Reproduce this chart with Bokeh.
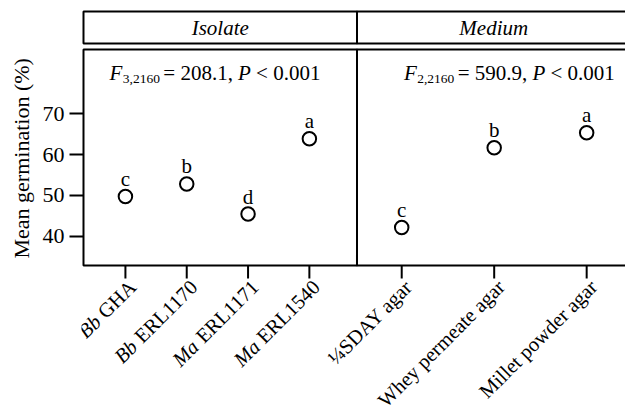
import math
from bokeh.plotting import figure
from bokeh.models import (Range1d, FixedTicker, LabelSet, Label, Title,
                          ColumnDataSource)
from bokeh.core.properties import value
from bokeh.embed import file_html
from bokeh.resources import INLINE

# ---------------- data ----------------
isolate_prefix = ["Bb", "Bb", "Ma", "Ma"]          # italic genus part of the tick labels
isolate_suffix = ["GHA", "ERL1170", "ERL1171", "ERL1540"]
isolate_mean = [49.7, 52.8, 45.4, 63.9]
isolate_letters = ["c", "b", "d", "a"]

medium_names = ["¼SDAY agar", "Whey permeate agar", "Millet powder agar"]
medium_mean = [42.1, 61.7, 65.4]
medium_letters = ["c", "b", "a"]

y_ticks = [40, 50, 60, 70]
strip_titles = ["Isolate", "Medium"]
f_df = ["3,2160", "2,2160"]
f_value = ["208.1", "590.9"]
p_value = ["0.001", "0.001"]
y_title = "Mean germination (%)"

# ---------------- layout (canvas pixels) ----------------
W, H = 625, 412
FL, FR, FT, FB = 80, 625, 0, 412          # frame edges
X1_ISO, DX_ISO = 124.0, 61.43             # first isolate tick, spacing
X1_MED, DX_MED = 400.8, 92.65             # first medium tick, spacing
Y55, PPU_Y = 174.5, 4.067                 # pixel of y=55, pixels per unit

xi_start = 1 - (X1_ISO - FL) / DX_ISO
xi_end = 1 + (FR - X1_ISO) / DX_ISO
xm_start = 1 - (X1_MED - FL) / DX_MED
xm_end = 1 + (FR - X1_MED) / DX_MED
y_start = 55 - (FB - Y55) / PPU_Y
y_end = 55 + (Y55 - FT) / PPU_Y


def xi(px):
    return xi_start + (px - FL) / DX_ISO


def px_i(x):
    return FL + (x - xi_start) * DX_ISO


def px_m(x):
    return FL + (x - xm_start) * DX_MED


def xm(px):
    return xm_start + (px - FL) / DX_MED


def yv(py):
    return y_start + (FB - py) / PPU_Y


TNR = {' ': 250, 'G': 722, 'H': 722, 'A': 722, 'E': 611, 'R': 667, 'L': 611,
       ',': 250, '.': 250, '=': 564, '<': 564, 'F': 611, 'P': 611}


def tw(s, size):
    return sum(TNR.get(c, 500) for c in s) * size / 1000.0


FONT = "Liberation Serif"

p = figure(width=W, height=H, x_range=Range1d(xi_start, xi_end),
           y_range=Range1d(y_start, y_end), output_backend="svg",
           toolbar_location=None, x_axis_location=None,
           min_border_left=FL, min_border_right=0,
           min_border_top=FT, min_border_bottom=H - FB)
p.extra_x_ranges = {"medium": Range1d(xm_start, xm_end)}
p.xgrid.visible = False
p.ygrid.visible = False
p.outline_line_color = None
p.background_fill_color = "white"
p.border_fill_color = "white"

iso_x = list(range(1, len(isolate_mean) + 1))
med_x = list(range(1, len(medium_mean) + 1))

# y axis
p.yaxis.ticker = FixedTicker(ticks=y_ticks)
p.yaxis.axis_line_color = None
p.yaxis.major_tick_out = 12
p.yaxis.major_tick_in = 2
p.yaxis.major_tick_line_width = 2
p.yaxis.major_tick_line_color = "black"
p.yaxis.minor_tick_out = 0
p.yaxis.minor_tick_in = 0
p.yaxis.major_label_text_font = FONT
p.yaxis.major_label_text_font_size = "22px"
p.yaxis.major_label_text_color = "black"
p.yaxis.major_label_standoff = 5
p.add_layout(Title(text=y_title, align="left", offset=154, standoff=12,
                   text_font=FONT, text_font_size="22px",
                   text_font_style="normal", text_color="black"), "left")

# strip and panel boxes
p.quad(left=[xi(82), xi(356)], right=[xi(356), xi(630)], top=[yv(11)] * 2,
       bottom=[yv(43)] * 2, fill_color=None, line_color="black", line_width=2)
p.quad(left=[xi(82), xi(356)], right=[xi(356), xi(630)], top=[yv(49)] * 2,
       bottom=[yv(265)] * 2, fill_color=None, line_color="black", line_width=2)
p.text(x=[xi(219), xi(493)], y=[yv(27)] * 2, text=strip_titles,
       text_font=value(FONT), text_font_style="italic", text_font_size="21px",
       text_align="center", text_baseline="middle", text_color="black")

# x ticks (below the panel box)
p.segment(x0=iso_x, x1=iso_x, y0=[yv(265)] * len(iso_x), y1=[yv(278)] * len(iso_x),
          line_color="black", line_width=2)
p.segment(x0=med_x, x1=med_x, y0=[yv(265)] * len(med_x), y1=[yv(278)] * len(med_x),
          line_color="black", line_width=2, x_range_name="medium")

# F statistics
BASE = 72
FS = 21
for k, x0 in enumerate([108, 403]):
    segs = [("F", FS, "italic", 0, 0.5),
            (f_df[k], 13.5, "normal", 6, 3.5),
            ("= " + f_value[k] + ",", FS, "normal", 0, tw(" ", FS)),
            ("P", FS, "italic", 0, tw(" ", FS)),
            ("< " + p_value[k], FS, "normal", 0, 0)]
    x = x0
    for txt, size, style, drop, gap in segs:
        p.add_layout(Label(x=xi(x), y=yv(BASE + drop), text=txt, text_font=FONT,
                           text_font_size=f"{size}px", text_font_style=style,
                           text_align="left", text_baseline="alphabetic",
                           text_color="black"))
        x += tw(txt, size) + gap

# points
p.scatter(x=iso_x, y=isolate_mean, marker="circle", size=13.5, fill_color=None,
          line_color="black", line_width=2)
p.scatter(x=med_x, y=medium_mean, marker="circle", size=13.5, fill_color=None,
          line_color="black", line_width=2, x_range_name="medium")

# letters
LOFF = 17.5 / PPU_Y
p.text(x=iso_x, y=[v + LOFF for v in isolate_mean], text=isolate_letters,
       text_font=value(FONT), text_font_size="21px", text_align="center",
       text_baseline="alphabetic", text_color="black")
p.text(x=med_x, y=[v + LOFF for v in medium_mean], text=medium_letters,
       text_font=value(FONT), text_font_size="21px", text_align="center",
       text_baseline="alphabetic", text_color="black", x_range_name="medium")

# x tick labels (rotated)
C45 = math.cos(math.pi / 4)
AX, AY, XS = 7, 283, 20.5
src_norm = ColumnDataSource(dict(x=[xi(px_i(x) + AX) for x in iso_x],
                                 y=[yv(AY)] * len(iso_x), t=isolate_suffix))
p.add_layout(LabelSet(source=src_norm, x="x", y="y", text="t", angle=math.pi / 4,
                      text_align="right", text_baseline="middle",
                      text_font=value(FONT), text_font_size=f"{XS}px",
                      text_color="black"))
ital_x, ital_y = [], []
for x, s in zip(iso_x, isolate_suffix):
    L = tw(" " + s, XS)
    ital_x.append(xi(px_i(x) + AX - L * C45))
    ital_y.append(yv(AY + L * C45))
src_ital = ColumnDataSource(dict(x=ital_x, y=ital_y, t=isolate_prefix))
p.add_layout(LabelSet(source=src_ital, x="x", y="y", text="t", angle=math.pi / 4,
                      text_align="right", text_baseline="middle",
                      text_font=value(FONT), text_font_style="italic",
                      text_font_size=f"{XS}px", text_color="black"))
src_med = ColumnDataSource(dict(x=[xm(px_m(x) + AX) for x in med_x],
                                y=[yv(AY)] * len(med_x), t=medium_names))
p.add_layout(LabelSet(source=src_med, x="x", y="y", text="t", angle=math.pi / 4,
                      text_align="right", text_baseline="middle",
                      text_font=value(FONT), text_font_size=f"{XS}px",
                      text_color="black", x_range_name="medium"))

open("out.html", "w").write(file_html(p, INLINE))
